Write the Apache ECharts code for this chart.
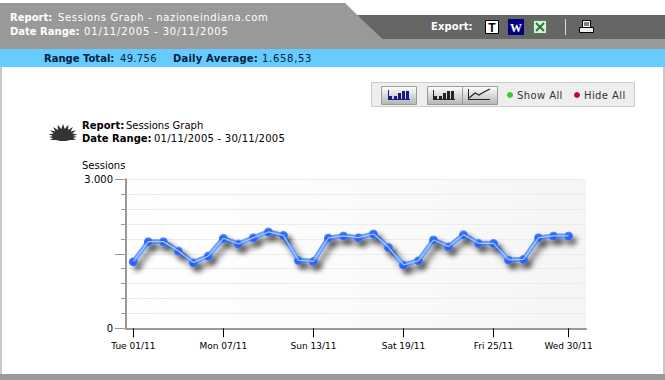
<!DOCTYPE html>
<html><head><meta charset="utf-8">
<style>html,body{margin:0;padding:0;background:#fff}#c{width:665px;height:380px}</style>
<script src="https://cdn.jsdelivr.net/npm/echarts@6/dist/echarts.min.js"></script>
</head><body><div id="c"></div>
<script>
const days = [1,2,3,4,5,6,7,8,9,10,11,12,13,14,15,16,17,18,19,20,21,22,23,24,25,26,27,28,29,30];
const sessions = [1342,1745,1745,1557,1322,1456,1812,1698,1825,1940,1872,1369,1349,1819,1859,1825,1899,1631,1275,1362,1779,1644,1886,1711,1711,1376,1389,1825,1859,1859];
const tickDays = [1,7,13,19,25,30];
const tickLabels = ['Tue 01/11','Mon 07/11','Sun 13/11','Sat 19/11','Fri 25/11','Wed 30/11'];
const F = 'Verdana,"DejaVu Sans",sans-serif';
const pts = days.map((d,i)=>[d,sessions[i]]);
const t=(x,y,parts,size,fill)=>parts.map(p=>({type:'text',x:x+(p.dx||0),y,style:{text:p.s,font:(p.b?'bold ':'')+size+'px '+F,fill:fill,verticalAlign:'middle'}}));
const rect=(x,y,w,h,fill,stroke)=>({type:'rect',shape:{x,y,width:w,height:h},style:{fill,stroke:stroke||null}});
const line=(x1,y1,x2,y2,c,w)=>({type:'line',shape:{x1,y1,x2,y2},style:{stroke:c,lineWidth:w||1}});
const grad=(a,b)=>({type:'linear',x:0,y:0,x2:0,y2:1,colorStops:[{offset:0,color:a},{offset:1,color:b}]});
const btn=(x,y,w)=>rect(x+.5,y+.5,w,18,grad('#ffffff','#b4b4b4'),'#9a9a9a');
const bars=(x,y,c)=>[[1,3],[6,3],[10,6],[14,8],[18,8]].map(b=>rect(x+b[0],y-b[1],3,b[1],c)).concat([rect(x,y-9,1,10,c),rect(x,y,22,1,c)]);
// sun badge outline: spikes on an ellipse, flat underneath
const sunPts=[];
for(let i=0;i<=16;i++){const a=Math.PI*(1.02+i*0.96/16);const o=i%2===0;
 sunPts.push([63+(o?14.5:9.5)*Math.cos(a),135+(o?11:6)*Math.sin(a)]);}
sunPts.push([73,136],[77,137],[73,138],[76,140],[70,140],[66,141],[60,141],[56,140],[50,140],[53,138],[49,137],[53,136]);
const chrome=[
 {type:'polygon',shape:{points:[[0,3],[345,3],[382,39],[665,39],[665,49],[0,49]]},style:{fill:'#999999'}},
 {type:'polygon',shape:{points:[[357,15],[665,15],[665,39],[382,39]]},style:{fill:'#666666'}},
 rect(0,49,665,18,'#66ccff'),
 rect(0,67,2,307,'#c8c8c8'), rect(663,67,2,307,'#c8c8c8'),
 rect(0,374,665,6,'#999999'),
 rect(371.5,82.5,263,24,'#eeeeee','#cccccc'),
 btn(381,86,35),btn(427,86,35),btn(462,86,35),
 ...bars(388,99,'#1a1a8c'),...bars(433,99,'#222222'),
 {type:'polyline',shape:{points:[[469,98],[475,93],[479,95],[484,92],[490,89]]},style:{stroke:'#222',fill:null,lineWidth:1.2}},
 line(468.5,89,468.5,100,'#222'),line(468,99.5,490,99.5,'#222'),
 {type:'circle',shape:{cx:510,cy:95,r:3},style:{fill:'#33cc33'}},
 {type:'circle',shape:{cx:577,cy:95,r:3},style:{fill:'#cc0044'}},
 // export icons
 rect(485.5,20.5,13,13,'#ffffff','#000000'),
 {type:'text',x:492,y:27.5,style:{text:'T',font:'bold 12px Arial,"Liberation Sans"',fill:'#000',align:'center',verticalAlign:'middle'}},
 rect(508,19,16,16,'#000080'),
 {type:'text',x:516,y:28,style:{text:'W',font:'bold 12px "Liberation Serif"',fill:'#ffffff',align:'center',verticalAlign:'middle'}},
 rect(533.5,20.5,13,13,'#dcecdc','#3a8a4a'),
 line(536,23,544,31,'#2a7a3a',2),line(544,23,536,31,'#2a7a3a',2),
 line(565.5,19,565.5,35,'#dddddd'),
 rect(582.5,20.5,8,7,'#ffffff','#000'),
 line(584,23,589,23,'#000'),line(584,25,589,25,'#000'),
 rect(579.5,27.5,14,5,'#eeeeee','#000'),
 // report badge
 {type:'polygon',shape:{points:sunPts},style:{fill:'#333333'}},
 ...t(10,17,[{s:'Report:',b:1},{s:'Sessions Graph - nazioneindiana.com',dx:48}],10,'#ffffff'),
 ...t(10,31,[{s:'Date Range:',b:1},{s:'01/11/2005 - 30/11/2005',dx:74}],10,'#ffffff'),
 ...t(44,58,[{s:'Range Total:',b:1},{s:'49.756',dx:76},{s:'Daily Average:',b:1,dx:129},{s:'1.658,53',dx:218}],10,'#002040'),
 ...t(431,26,[{s:'Export:',b:1}],10,'#ffffff'),
 ...t(517,95,[{s:'Show All'}],10,'#333333'),
 ...t(584,95,[{s:'Hide All'}],10,'#333333'),
 ...t(82,125,[{s:'Report:',b:1},{s:'Sessions Graph',dx:44}],10,'#000000'),
 ...t(82,138,[{s:'Date Range:',b:1},{s:'01/11/2005 - 30/11/2005',dx:72}],10,'#000000'),
 ...t(82,165,[{s:'Sessions'}],10,'#000000'),
];
const chart=echarts.init(document.getElementById('c'),null,{renderer:'svg'});
chart.setOption({
 animation:false,
 graphic:{elements:chrome},
 grid:{left:126,right:79,top:179.3,height:149,show:true,borderWidth:0,
  backgroundColor:{type:'linear',x:0,y:0,x2:1,y2:0,colorStops:[{offset:0,color:'#ffffff'},{offset:.5,color:'#fbfbfb'},{offset:1,color:'#f5f5f5'}]}},
 xAxis:{type:'value',min:0.51,max:31.16,
  axisLine:{show:true,onZero:false,lineStyle:{color:'#999999',width:2}},
  splitLine:{show:false},
  axisTick:{show:true,customValues:tickDays,length:9,lineStyle:{color:'#000',width:1}},
  axisLabel:{show:true,customValues:tickDays,margin:13,fontSize:9,fontFamily:F,color:'#000',
   formatter:v=>tickLabels[tickDays.indexOf(v)]}},
 yAxis:{type:'value',min:0,max:3000,interval:1500,minorTick:{show:true,splitNumber:5,length:5,lineStyle:{color:'#999',width:1}},
  minorSplitLine:{show:true,lineStyle:{color:'#ececec',width:1}},
  axisLine:{show:true,lineStyle:{color:'#999999',width:2}},
  axisTick:{show:true,length:11,lineStyle:{color:'#999',width:1}},
  splitLine:{show:true,lineStyle:{color:'#ececec',width:1}},
  axisLabel:{fontSize:10,fontFamily:F,color:'#000',margin:13,
   formatter:v=>v===3000?'3.000':(v===0?'0':'')}},
 series:[
  {type:'line',data:pts,symbol:'circle',symbolSize:9,z:3,smooth:false,
   lineStyle:{color:'#6b9fff',width:5,shadowColor:'rgba(0,0,0,0.55)',shadowBlur:6,shadowOffsetX:4,shadowOffsetY:5},
   itemStyle:{color:{type:'radial',x:.5,y:.6,r:.6,colorStops:[{offset:0,color:'#2255f0'},{offset:.7,color:'#3a70f5'},{offset:1,color:'#76a6ff'}]},borderWidth:0,shadowColor:'rgba(0,0,0,0.45)',shadowBlur:5,shadowOffsetX:4,shadowOffsetY:5}},
  {type:'line',data:pts,symbol:'none',z:4,silent:true,lineStyle:{color:'#a3c8ff',width:1.2}}
 ]
});
// the original's header text is tracked out slightly
const tracking={'Sessions Graph - nazioneindiana.com':.65,'49.756':.3,'1.658,53':.7,'Show All':.4,'Hide All':.4,'Export:':.1,'Daily Average:':.2};
const dateTracking=[.85,.25];
let dateSeen=0;
document.querySelectorAll('#c text').forEach(e=>{
 const s=e.textContent;
 const k=s==='01/11/2005 - 30/11/2005'?dateTracking[dateSeen++]:tracking[s];
 if(k)e.setAttribute('letter-spacing',k);
});
</script></body></html>
